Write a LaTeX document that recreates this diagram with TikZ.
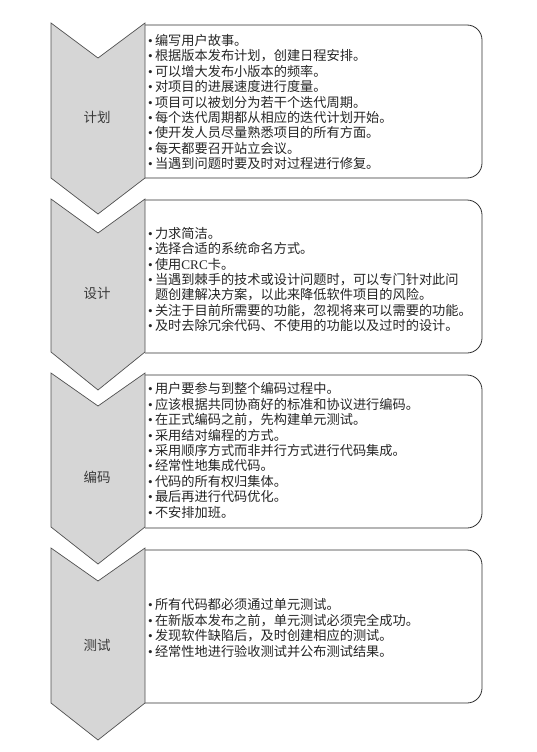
\documentclass[tikz,border=0pt]{standalone}
\usepackage{fontspec}
\setmainfont{Liberation Serif}
\newfontfamily\cjk{Noto Sans CJK SC}
\definecolor{chevfill}{HTML}{D6D6D6}
\definecolor{chevline}{HTML}{505050}
\definecolor{boxline}{HTML}{303030}
\definecolor{lbl}{HTML}{3A3A3A}
\newcommand\bul{{\rmfamily\textbullet}\,}
\newcommand\bulsp{\phantom{{\rmfamily\textbullet}\,}}
\tikzset{
  chev/.style={fill=chevfill, draw=chevline, line width=0.7pt, line join=miter},
  infobox/.style={draw=boxline, fill=white, line width=0.8pt, rounded corners=15pt},
  stagelabel/.style={font=\cjk\fontsize{13.5}{16}\selectfont, text=lbl, inner sep=0pt},
  itemtext/.style={anchor=west, align=left, inner sep=1pt, font=\cjk\fontsize{13.2}{15.4}\selectfont, text=black!85}
}
\begin{document}
\begin{tikzpicture}[x=1pt,y=-1pt]
\useasboundingbox (0,0) rectangle (537,752);
% boxes
\draw[infobox] (145,25) -- (482,25) -- (482,178) -- (145,178);
\draw[infobox] (145,200) -- (482,200) -- (482,353) -- (145,353);
\draw[infobox] (145,375) -- (482,375) -- (482,528) -- (145,528);
\draw[infobox] (145,550) -- (482,550) -- (482,703) -- (145,703);
% chevrons
\draw[chev] (51,23) -- (98,58) -- (145,23) -- (145,178) -- (98,214) -- (51,178) -- cycle;
\draw[chev] (51,199) -- (98,233) -- (145,199) -- (145,352) -- (98,390) -- (51,352) -- cycle;
\draw[chev] (51,373) -- (98,406) -- (145,373) -- (145,527) -- (98,564) -- (51,527) -- cycle;
\draw[chev] (51,548) -- (98,581) -- (145,548) -- (145,703) -- (98,740) -- (51,703) -- cycle;
% stage labels
\node[stagelabel] (l1) at (97,117) {计划};
\node[stagelabel] (l2) at (97,293) {设计};
\node[stagelabel] (l3) at (97,477) {编码};
\node[stagelabel] (l4) at (97,645) {测试};
% texts
\node[itemtext] (t1) at (147,102) {\bul 编写用户故事。\\
\bul 根据版本发布计划，创建日程安排。\\
\bul 可以增大发布小版本的频率。\\
\bul 对项目的进展速度进行度量。\\
\bul 项目可以被划分为若干个迭代周期。\\
\bul 每个迭代周期都从相应的迭代计划开始。\\
\bul 使开发人员尽量熟悉项目的所有方面。\\
\bul 每天都要召开站立会议。\\
\bul 当遇到问题时要及时对过程进行修复。};
\node[itemtext] (t2) at (147,279.5) {\bul 力求简洁。\\
\bul 选择合适的系统命名方式。\\
\bul 使用{\rmfamily CRC}卡。\\
\bul 当遇到棘手的技术或设计问题时，可以专门针对此问\\
\bulsp 题创建解决方案，以此来降低软件项目的风险。\\
\bul 关注于目前所需要的功能，忽视将来可以需要的功能。\\
\bul 及时去除冗余代码、不使用的功能以及过时的设计。};
\node[itemtext] (t3) at (147,450.5) {\bul 用户要参与到整个编码过程中。\\
\bul 应该根据共同协商好的标准和协议进行编码。\\
\bul 在正式编码之前，先构建单元测试。\\
\bul 采用结对编程的方式。\\
\bul 采用顺序方式而非并行方式进行代码集成。\\
\bul 经常性地集成代码。\\
\bul 代码的所有权归集体。\\
\bul 最后再进行代码优化。\\
\bul 不安排加班。};
\node[itemtext] (t4) at (147,628) {\bul 所有代码都必须通过单元测试。\\
\bul 在新版本发布之前，单元测试必须完全成功。\\
\bul 发现软件缺陷后，及时创建相应的测试。\\
\bul 经常性地进行验收测试并公布测试结果。};
\end{tikzpicture}
\end{document}
